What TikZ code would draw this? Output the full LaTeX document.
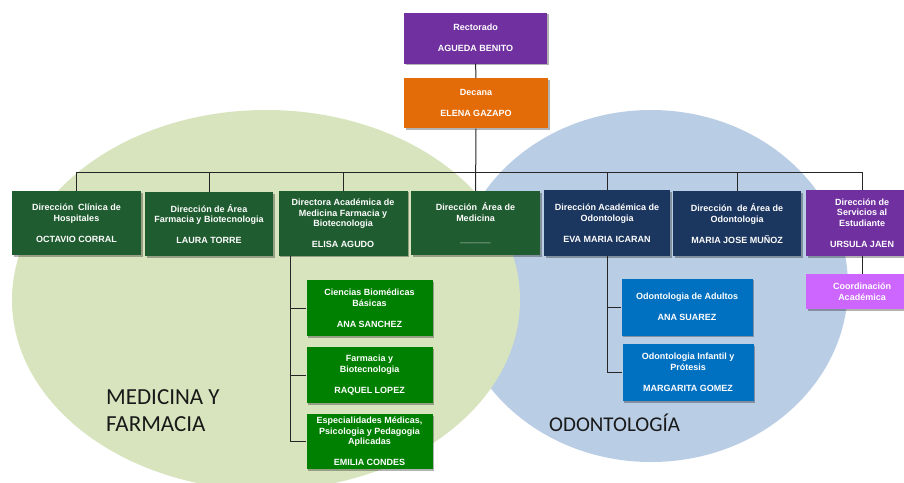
\documentclass[tikz,border=0pt]{standalone}
\usepackage{fontspec}
\setmainfont{Liberation Sans}
\newfontfamily\calibri{Carlito}
\usetikzlibrary{shadows}
\definecolor{ellgreen}{HTML}{D7E4BD}
\definecolor{ellblue}{HTML}{B9CDE5}
\definecolor{dkgreen}{HTML}{1F5C30}
\definecolor{navy}{HTML}{1B365F}
\definecolor{violet}{HTML}{7030A0}
\definecolor{orange}{HTML}{E36C09}
\definecolor{brgreen}{HTML}{008000}
\definecolor{midblue}{HTML}{0070C0}
\definecolor{lilac}{HTML}{CC66FF}
\tikzset{
  box/.style={rectangle,inner sep=0pt,text=white,align=center,
    font=\bfseries\fontsize{9}{10.5}\selectfont,
    drop shadow={shadow xshift=1.5pt,shadow yshift=-1.5pt,fill=black,opacity=.3}},
  link/.style={draw=black!85,line width=1pt}
}
\begin{document}
\begin{tikzpicture}[x=1pt,y=-1pt] % pixel coordinates, y downwards
  \useasboundingbox (0,0) rectangle (904,482);

  \fill[ellblue] (651,286) ellipse (197 and 176);
  \fill[ellgreen] (266,300) ellipse (254 and 190);

  \node[box,fill=violet,minimum width=143,minimum height=51](rect) at (475.5,38) {Rectorado\\[10.5pt]AGUEDA BENITO};
  \node[box,fill=orange,minimum width=144,minimum height=50](dec) at (476,103.3) {Decana\\[10.5pt]ELENA GAZAPO};

  \node[box,fill=dkgreen,minimum width=129,minimum height=64](hosp) at (76.5,223) {Dirección\ \ Clínica de\\Hospitales\\[10.5pt]OCTAVIO CORRAL};
  \node[box,fill=dkgreen,minimum width=128,minimum height=64](farbio) at (209,224) {Dirección de Área\\Farmacia y Biotecnologia\\[10.5pt]LAURA TORRE};
  \node[box,fill=dkgreen,minimum width=129,minimum height=65](dirmed) at (343,223.3) {Directora Académica de\\Medicina Farmacia y\\Biotecnologia\\[10.5pt]ELISA AGUDO};
  \node[box,fill=dkgreen,minimum width=129,minimum height=64](armed) at (475.5,223) {Dirección\ \ Área de\\Medicina\\[10.5pt]\_\_\_\_\_\_};
  \node[box,fill=navy,minimum width=126,minimum height=66](dirodo) at (607,223) {Dirección Académica de\\Odontologia\\[10.5pt]EVA MARIA ICARAN};
  \node[box,fill=navy,minimum width=128,minimum height=65](arodo) at (737,223.5) {Dirección\ \ de Área de\\Odontologia\\[10.5pt]MARIA JOSE MUÑOZ};
  \node[box,fill=violet,minimum width=112,minimum height=66](serv) at (862,223) {Dirección de\\Servicios al\\Estudiante\\[10.5pt]URSULA JAEN};
  \node[box,fill=lilac,minimum width=112,minimum height=35](coord) at (862,291.7) {Coordinación\\Académica};

  \node[box,fill=brgreen,minimum width=126,minimum height=56](cien) at (369.5,308) {Ciencias Biomédicas\\Básicas\\[10.5pt]ANA SANCHEZ};
  \node[box,fill=brgreen,minimum width=126,minimum height=56](farm) at (369.5,375.3) {Farmacia y\\Biotecnologia\\[10.5pt]RAQUEL LOPEZ};
  \node[box,fill=brgreen,minimum width=126,minimum height=55](esp) at (369.5,441.7) {Especialidades Médicas,\\Psicologia y Pedagogia\\Aplicadas\\[10.5pt]EMILIA CONDES};

  \node[box,fill=midblue,minimum width=131,minimum height=57](adul) at (687,307) {Odontologia de Adultos\\[10.5pt]ANA SUAREZ};
  \node[box,fill=midblue,minimum width=131,minimum height=57](inf) at (688,372.5) {Odontologia Infantil y\\Prótesis\\[10.5pt]MARGARITA GOMEZ};

  \node[anchor=north west,align=left,inner sep=0pt,text=black!90,font=\calibri\fontsize{23}{27.5}\selectfont](medlab) at (106,389) {MEDICINA Y\\FARMACIA};
  \node[anchor=north west,inner sep=0pt,text=black!90,font=\calibri\fontsize{21}{25}\selectfont](odolab) at (549,414) {ODONTOLOGÍA};

  \coordinate (bar) at (0,172);
  \coordinate (mtrunk) at ([xshift=12.5pt]dirmed.south west);

  \draw[link] (rect) -- (dec);
  \draw[link] (dec) -- (armed);
  \draw[link] (hosp.north) |- (serv.north |- bar) -- (serv.north);
  \foreach \n in {farbio,dirmed,dirodo,arodo}
    \draw[link] (\n.north) -- (\n.north |- bar);
  \draw[link] (serv) -- (coord);

  \draw[link] (mtrunk) |- (cien.west);
  \draw[link] (mtrunk) |- (farm.west);
  \draw[link] (mtrunk) |- (esp.west);
  \draw[link] (dirodo.south) |- (adul.west);
  \draw[link] (dirodo.south) |- (inf.west);

\end{tikzpicture}
\end{document}
